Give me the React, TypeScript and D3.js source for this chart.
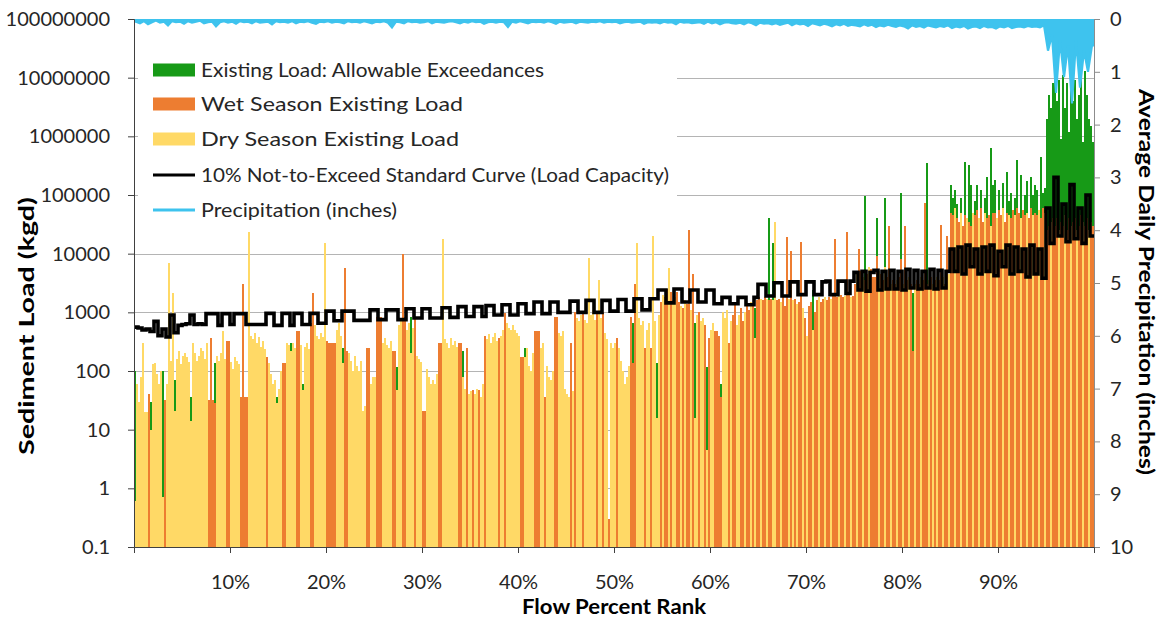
import React, { useEffect, useRef } from 'react';
import * as d3 from 'd3';

// one char per day-group bar: d = dry season, w = wet season
const seasonRuns = [
  'dddddddwdd', 'dddddwdddd', 'dddddddddd', 'dddddddwww', 'wdddddwwdd', 'dddwwwwddd',
  'ddddddwddd', 'ddddwwdddd', 'dwwdddddww', 'ddddddwwww', 'wddddwwddd', 'ddddddwwdd',
  'dwwwdddddw', 'wdddwwdddd', 'wdddwwdddd', 'ddwwdddddd', 'ddwwddwddw', 'ddwddwdddd',
  'ddwddwdddd', 'dddwwddddd', 'wwwddwdddd', 'wwddddddwd', 'wdddwddddd', 'dwddwddwdd',
  'dwddddddww', 'wddddwddwd', 'dddwdwwdwd', 'dwwdwdwwdw', 'ddwddwdwdd', 'wwwwdddwdw',
  'wddwwdwwdw', 'dwwdwwdwwd', 'dwwdwwwdwd', 'wdwwdwdwwd', 'wwdwwdwwdw', 'wwdwwdwwdw',
  'wdwwdwwdww', 'wwdwwdwwdw', 'wdwwdwwdww', 'dwwdwwwdwd', 'wdwwdwwdww', 'dwwdwwdwwd',
  'wwdwwdwwdw', 'wdwwdwwdww', 'dwwdwwdwwd', 'wwdwwdwwdw', 'wwdwwdwwdw', 'wdwwdwwdww',
];

// existing load per bar (kg/d)
const loads = [
  0.6, 60, 30, 80, 300, 20, 20, 40, 10, 130,
  135, 90, 60, 100, 0.7, 32, 60, 6800, 150, 2100,
  21, 160, 220, 130, 180, 200, 170, 140, 14, 300,
  200, 150, 180, 250, 220, 160, 300, 32, 370, 32,
  28, 180, 150, 200, 490, 160, 330, 330, 140, 110,
  170, 150, 130, 36, 3100, 36, 36, 23000, 400, 350,
  450, 300, 380, 260, 320, 240, 170, 135, 90, 60,
  70, 28, 50, 100, 135, 135, 300, 280, 220, 300,
  250, 490, 490, 280, 47, 260, 300, 240, 650, 2100,
  600, 400, 350, 450, 380, 15000, 320, 300, 300, 300,
  300, 500, 650, 400, 135, 5600, 220, 200, 150, 100,
  180, 120, 100, 150, 21, 25, 250, 250, 60, 80,
  80, 820, 820, 820, 300, 370, 280, 250, 330, 220,
  220, 47, 600, 700, 10000, 820, 500, 650, 200, 550,
  820, 180, 160, 140, 21, 21, 110, 80, 60, 70,
  60, 90, 300, 300, 18000, 350, 300, 250, 370, 280,
  330, 260, 300, 300, 80, 50, 250, 40, 45, 47,
  40, 50, 47, 36, 60, 400, 350, 420, 300, 380,
  450, 320, 370, 400, 500, 960, 650, 550, 500, 600,
  500, 450, 400, 170, 170, 170, 250, 120, 100, 200,
  490, 490, 490, 250, 300, 36, 120, 80, 70, 100,
  820, 820, 450, 400, 490, 50, 40, 36, 300, 45,
  1000, 800, 700, 900, 1000, 750, 650, 8300, 900, 1100,
  750, 1000, 3500, 800, 1000, 450, 350, 0.3, 300, 250,
  300, 370, 250, 150, 100, 60, 80, 120, 820, 135,
  3100, 15000, 800, 600, 700, 250, 500, 650, 250, 20000,
  700, 16, 900, 1500, 2000, 1800, 2500, 5800, 2200, 1600,
  1800, 2200, 1500, 1300, 1200, 1600, 1400, 25000, 1100, 4500,
  16, 900, 1000, 700, 800, 600, 4.5, 370, 500, 650,
  490, 490, 400, 36, 1000, 800, 1100, 300, 700, 900,
  1400, 600, 900, 1200, 700, 1000, 1300, 1100, 1500, 1400,
  370, 1600, 1800, 1700, 1600, 1800, 1700, 1600, 1700, 1600,
  35000, 1600, 1700, 1500, 1800, 1300, 19000, 1700, 11000, 1600,
  1700, 1400, 1500, 16000, 1200, 800, 400, 1300, 1500, 500,
  1000, 1600, 1800, 1500, 1700, 1800, 1600, 1800, 1700, 1900,
  18000, 1800, 1900, 2000, 1800, 1900, 23000, 2000, 1800, 1900,
  3000, 4500, 12000, 5000, 4000, 3500, 4500, 6000, 5500, 4000,
  4000, 9000, 5000, 4500, 3500, 6000, 4000, 30000, 3000, 3500,
  3000, 3500, 4000, 8000, 3000, 30000, 3500, 4000, 3000, 220,
  3000, 3500, 3000, 4000, 3500, 72000, 3000, 3500, 4000, 3000,
  3500, 4000, 3500, 31000, 4000, 3000, 20000, 4500, 50000, 45000,
  60000, 40000, 35000, 50000, 30000, 45000, 40000, 35000, 30000, 50000,
  45000, 55000, 40000, 60000, 35000, 50000, 40000, 45000, 30000, 50000,
  50000, 40000, 55000, 45000, 60000, 35000, 50000, 45000, 40000, 55000,
  45000, 60000, 50000, 40000, 55000, 45000, 50000, 40000, 60000, 45000,
  50000, 45000, 55000, 40000, 60000, 50000, 25000, 30000, 35000, 40000,
  30000, 40000, 25000, 35000, 30000, 45000, 25000, 40000, 30000, 35000,
  40000, 25000, 30000, 45000, 35000, 30000, 40000, 25000, 35000, 30000,
];

// [bar, load] for the allowable exceedance days
const exceedances: [number, number][] = [
  [0, 100], [8, 30], [14, 100], [20, 70], [28, 36], [40, 135], [71, 36], [78, 300],
  [84, 60], [104, 250], [131, 115], [138, 820], [164, 220], [195, 250], [249, 650],
  [261, 135], [280, 650], [286, 115], [293, 60], [310, 1200], [317, 40000], [319, 15000],
  [339, 2400], [365, 98000], [371, 40000], [375, 90000], [383, 110000], [389, 2100],
  [396, 350000], [408, 150000], [409, 90000], [410, 120000], [411, 70000], [413, 90000],
  [415, 370000], [417, 330000], [418, 150000], [420, 80000], [421, 150000], [423, 120000],
  [425, 90000], [426, 200000], [428, 640000], [429, 150000], [430, 180000], [432, 120000],
  [434, 160000], [436, 250000], [437, 80000], [438, 110000], [440, 90000], [441, 400000],
  [443, 220000], [445, 100000], [446, 170000], [448, 200000], [449, 100000], [450, 150000],
  [451, 120000], [453, 450000], [454, 110000], [455, 130000],
  [456, 2000000], [457, 5000000], [458, 3000000], [459, 8000000], [460, 13000000],
  [461, 4000000], [462, 9000000], [463, 900000], [464, 11000000], [465, 3000000],
  [466, 8000000], [467, 1200000], [468, 6000000], [469, 4000000], [470, 9000000],
  [471, 2000000], [472, 5000000], [473, 12000000], [474, 800000], [475, 13000000],
  [476, 5000000], [477, 2000000], [478, 1500000], [479, 800000],
];

// 10% not-to-exceed load capacity, 240 steps
const capacity = [
  560, 540, 500, 520, 470, 700, 400, 520, 380, 900,
  450, 600, 620, 640, 900, 620, 640, 620, 950, 950,
  950, 600, 950, 950, 620, 950, 950, 950, 620, 620,
  620, 620, 620, 960, 960, 600, 600, 960, 960, 600,
  960, 960, 620, 620, 960, 960, 650, 650, 1050, 1050,
  720, 720, 1050, 1050, 1050, 730, 730, 730, 730, 1100,
  1100, 750, 750, 1100, 1100, 1100, 750, 750, 1150, 1150,
  800, 800, 1150, 1150, 800, 800, 800, 1200, 1200, 820,
  820, 1250, 1250, 850, 850, 1250, 1250, 850, 1300, 1300,
  900, 900, 1350, 1350, 900, 900, 1400, 1400, 950, 950,
  1500, 1500, 950, 950, 1500, 1500, 1000, 1000, 1000, 1550,
  1550, 1000, 1000, 1600, 1600, 1000, 1000, 1600, 1600, 1050,
  1050, 1650, 1650, 1050, 1050, 1700, 1700, 1100, 1100, 1700,
  1700, 2400, 2400, 1450, 1450, 2500, 2500, 1500, 1500, 2400,
  2400, 1500, 1500, 2400, 2400, 1400, 1400, 1800, 1800, 1400,
  1400, 1800, 1800, 1350, 1350, 1800, 3000, 3000, 1900, 1900,
  3200, 3200, 1900, 1900, 3300, 3300, 2000, 2000, 3300, 3300,
  2000, 2000, 3300, 3400, 2000, 2000, 3400, 3400, 2100, 3400,
  4800, 2400, 5000, 2300, 4800, 5200, 2400, 5000, 2500, 5200,
  2500, 5000, 2400, 5400, 2600, 5200, 2500, 5000, 2600, 5400,
  2500, 5200, 2600, 5000, 12000, 5000, 13000, 4500, 14000, 6000,
  12000, 4500, 13000, 5000, 14000, 4200, 11000, 6000, 14000, 4500,
  13000, 5000, 12000, 4000, 14000, 4500, 12000, 3800, 60000, 15000,
  200000, 20000, 70000, 16000, 150000, 18000, 60000, 15000, 100000, 20000,
];

// precipitation (inches), 240 steps
const precip = [
  0.05, 0.08, 0.04, 0.1, 0.06, 0.03, 0.07, 0.05, 0.12, 0.04,
  0.06, 0.05, 0.09, 0.04, 0.07, 0.05, 0.03, 0.08, 0.06, 0.05,
  0.14, 0.06, 0.04, 0.07, 0.05, 0.09, 0.04, 0.06, 0.05, 0.08,
  0.04, 0.07, 0.06, 0.05, 0.1, 0.04, 0.06, 0.05, 0.07, 0.04,
  0.08, 0.05, 0.06, 0.04, 0.07, 0.09, 0.05, 0.06, 0.04, 0.07,
  0.05, 0.06, 0.08, 0.04, 0.06, 0.05, 0.07, 0.04, 0.06, 0.08,
  0.05, 0.06, 0.04, 0.07, 0.16, 0.05, 0.06, 0.08, 0.04, 0.06,
  0.05, 0.07, 0.06, 0.04, 0.08, 0.05, 0.06, 0.07, 0.05, 0.04,
  0.06, 0.08, 0.05, 0.07, 0.04, 0.06, 0.05, 0.09, 0.06, 0.05,
  0.07, 0.05, 0.06, 0.15, 0.05, 0.07, 0.04, 0.06, 0.08, 0.05,
  0.06, 0.05, 0.07, 0.04, 0.06, 0.09, 0.05, 0.07, 0.06, 0.05,
  0.08, 0.05, 0.06, 0.07, 0.05, 0.06, 0.04, 0.07, 0.05, 0.06,
  0.05, 0.08, 0.06, 0.05, 0.07, 0.06, 0.05, 0.09, 0.06, 0.07,
  0.06, 0.08, 0.05, 0.07, 0.06, 0.1, 0.05, 0.07, 0.06, 0.08,
  0.07, 0.06, 0.09, 0.05, 0.08, 0.06, 0.1, 0.07, 0.06, 0.08,
  0.09, 0.07, 0.1, 0.06, 0.08, 0.12, 0.07, 0.09, 0.08, 0.1,
  0.08, 0.11, 0.09, 0.07, 0.12, 0.08, 0.1, 0.09, 0.13, 0.08,
  0.1, 0.12, 0.09, 0.11, 0.14, 0.1, 0.12, 0.09, 0.13, 0.11,
  0.12, 0.14, 0.1, 0.13, 0.11, 0.15, 0.12, 0.14, 0.11, 0.13,
  0.15, 0.12, 0.14, 0.18, 0.12, 0.15, 0.13, 0.16, 0.12, 0.14,
  0.16, 0.13, 0.15, 0.12, 0.17, 0.14, 0.16, 0.13, 0.18, 0.15,
  0.14, 0.17, 0.13, 0.16, 0.15, 0.18, 0.14, 0.16, 0.13, 0.17,
  0.15, 0.14, 0.16, 0.13, 0.15, 0.14, 0.16, 0.12, 0.6, 0.3,
  1.4, 0.4, 1.1, 0.5, 1.6, 0.4, 1.3, 0.6, 1.0, 0.5,
];

const percentTicks = [10, 20, 30, 40, 50, 60, 70, 80, 90];
const loadTicks = [0.1, 1, 10, 100, 1000, 10000, 100000, 1000000, 10000000, 100000000];
const precipTicks = [0, 1, 2, 3, 4, 5, 6, 7, 8, 9, 10];

const legendItems = [
  { label: 'Existing Load: Allowable Exceedances', kind: 'box', color: '#179a17', len: 343 },
  { label: 'Wet Season Existing Load', kind: 'box', color: '#ed7d31', len: 262 },
  { label: 'Dry Season Existing Load', kind: 'box', color: '#ffd966', len: 258 },
  { label: '10% Not-to-Exceed Standard Curve (Load Capacity)', kind: 'line', color: '#000000', len: 468 },
  { label: 'Precipitation (inches)', kind: 'line', color: '#3ec3ee', len: 196 },
];

const FONT = 'Lato, "Open Sans", sans-serif';

function App() {
  const ref = useRef<SVGSVGElement>(null);

  useEffect(() => {
    drawChart();
  }, []);

  function drawChart() {
    const svg = d3.select(ref.current);
    svg.selectAll('*').remove();

    const left = 134, right = 1094, top = 19, bottom = 547;
    const seasons = seasonRuns.join('');

    const x = d3.scaleLinear().domain([0, 100]).range([left, right]);
    const band = d3.scaleBand<number>().domain(d3.range(loads.length)).range([left, right]).padding(0);
    const y = d3.scaleLog().domain([0.1, 1e8]).range([bottom, top]);
    const y2 = d3.scaleLinear().domain([0, 10]).range([top, bottom]);

    // gridlines
    svg.append('g')
      .selectAll('line')
      .data(loadTicks.slice(1))
      .join('line')
      .attr('x1', left).attr('x2', right)
      .attr('y1', d => Math.round(y(d)) + 0.5).attr('y2', d => Math.round(y(d)) + 0.5)
      .attr('stroke', '#b4b4b4').attr('stroke-width', 1);

    // exceedance bars behind the season bars
    svg.append('g')
      .selectAll('rect')
      .data(exceedances)
      .join('rect')
      .attr('x', d => band(d[0]) as number)
      .attr('width', band.bandwidth())
      .attr('y', d => y(d[1]))
      .attr('height', d => y(0.1) - y(d[1]))
      .attr('fill', legendItems[0].color)
      .attr('shape-rendering', 'crispEdges');

    svg.append('g')
      .selectAll('rect')
      .data(loads)
      .join('rect')
      .attr('x', (d, i) => band(i) as number)
      .attr('width', band.bandwidth())
      .attr('y', d => y(d))
      .attr('height', d => y(0.1) - y(d))
      .attr('fill', (d, i) => (seasons[i] === 'w' ? legendItems[1].color : legendItems[2].color))
      .attr('shape-rendering', 'crispEdges');

    // legend background
    svg.append('rect')
      .attr('x', 138).attr('y', 44).attr('width', 539).attr('height', 188)
      .attr('fill', '#ffffff');

    // load capacity curve
    const capPts: [number, number][] = capacity.map((v, j) => [j * 100 / capacity.length, v]);
    capPts.push([100, capacity[capacity.length - 1]]);
    svg.append('path')
      .datum(capPts)
      .attr('fill', 'none')
      .attr('stroke', '#000')
      .attr('stroke-width', 3.6)
      .attr('stroke-linejoin', 'miter')
      .attr('d', d3.line<[number, number]>().x(d => x(d[0])).y(d => y(d[1])).curve(d3.curveStepAfter));

    // precipitation hanging from the top
    const prPts: [number, number][] = precip.map((v, j) => [(j + 0.5) * 100 / precip.length, v]);
    prPts.unshift([0, precip[0]]);
    prPts.push([100, precip[precip.length - 1]]);
    svg.append('path')
      .datum(prPts)
      .attr('fill', legendItems[4].color)
      .attr('d', d3.area<[number, number]>().x(d => x(d[0])).y0(y2(0)).y1(d => y2(d[1])));
    svg.append('path')
      .datum(prPts)
      .attr('fill', 'none')
      .attr('stroke', legendItems[4].color)
      .attr('stroke-width', 2.2)
      .attr('d', d3.line<[number, number]>().x(d => x(d[0])).y(d => y2(d[1])));

    // axes
    const styleAxis = (g: any, lineColor: string) => {
      g.selectAll('text').attr('font-family', FONT).attr('font-size', 20).attr('fill', '#262626');
      g.selectAll('line').attr('stroke', lineColor);
      g.select('.domain').attr('stroke', lineColor);
    };

    svg.append('g')
      .attr('transform', `translate(${left},0)`)
      .call(d3.axisLeft(y).tickValues(loadTicks).tickFormat(d => (+d < 1 ? '0.1' : String(d))).tickSize(6).tickPadding(18))
      .call(g => styleAxis(g, '#404040'));

    svg.append('g')
      .attr('transform', `translate(${right},0)`)
      .call(d3.axisRight(y2).tickValues(precipTicks).tickFormat(d => String(d)).tickSize(6).tickPadding(10))
      .call(g => styleAxis(g, '#8c8c8c'));

    svg.append('g')
      .attr('transform', `translate(0,${bottom})`)
      .call(d3.axisBottom(x).tickValues(percentTicks).tickFormat(d => `${d}%`).tickSize(6).tickPadding(22))
      .call(g => styleAxis(g, '#404040'));

    // legend
    const lg = svg.append('g');
    legendItems.forEach((item, i) => {
      const cy = [70, 104, 139, 175, 210][i];
      if (item.kind === 'box') {
        lg.append('rect').attr('x', 153).attr('y', cy - 6.5).attr('width', 42).attr('height', 13).attr('fill', item.color);
      } else {
        lg.append('line').attr('x1', 153).attr('x2', 195).attr('y1', cy).attr('y2', cy)
          .attr('stroke', item.color).attr('stroke-width', 3);
      }
      lg.append('text')
        .attr('x', 201).attr('y', cy).attr('dy', '0.35em')
        .attr('font-family', FONT).attr('font-size', 20).attr('fill', '#262626')
        .attr('textLength', item.len).attr('lengthAdjust', 'spacingAndGlyphs')
        .text(item.label);
    });

    // axis titles
    svg.append('text')
      .attr('transform', 'translate(27,326) rotate(-90)')
      .attr('text-anchor', 'middle').attr('dy', '0.35em')
      .attr('font-family', FONT).attr('font-size', 20).attr('font-weight', 'bold').attr('fill', '#000')
      .attr('textLength', 258).attr('lengthAdjust', 'spacingAndGlyphs')
      .text('Sediment Load (kgd)');

    svg.append('text')
      .attr('transform', 'translate(1146,282) rotate(90)')
      .attr('text-anchor', 'middle').attr('dy', '0.35em')
      .attr('font-family', FONT).attr('font-size', 20).attr('font-weight', 'bold').attr('fill', '#000')
      .attr('textLength', 386).attr('lengthAdjust', 'spacingAndGlyphs')
      .text('Average Daily Precipitation (inches)');

    svg.append('text')
      .attr('x', 614).attr('y', 607).attr('dy', '0.35em')
      .attr('text-anchor', 'middle')
      .attr('font-family', FONT).attr('font-size', 21).attr('font-weight', 'bold').attr('fill', '#000')
      .attr('textLength', 184).attr('lengthAdjust', 'spacingAndGlyphs')
      .text('Flow Percent Rank');
  }

  return (
    <svg ref={ref} width={1160} height={620} style={{ position: 'absolute', left: 0, top: 0, background: '#fff' }} />
  );
}

export default App;
